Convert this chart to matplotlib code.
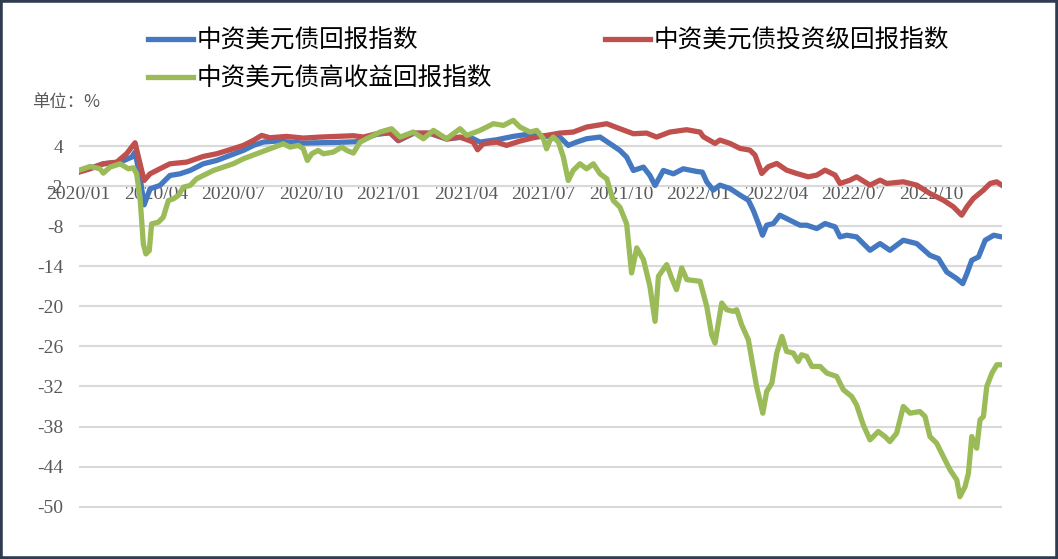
import matplotlib
matplotlib.use('Agg')
import matplotlib.pyplot as plt
from matplotlib.patches import Rectangle

plt.rcParams['font.family'] = ['Noto Sans CJK SC', 'DejaVu Sans']
plt.rcParams['axes.unicode_minus'] = False

# x: months since 2020/01
tick_pos = [0, 3, 6, 9, 12, 15, 18, 21, 24, 27, 30, 33]
tick_labels = ['2020/01', '2020/04', '2020/07', '2020/10', '2021/01', '2021/04',
               '2021/07', '2021/10', '2022/01', '2022/04', '2022/07', '2022/10']
y_ticks = [4, -2, -8, -14, -20, -26, -32, -38, -44, -50]

names = ['中资美元债回报指数', '中资美元债投资级回报指数', '中资美元债高收益回报指数']

# 中资美元债回报指数
blue_m = [0, 0.96, 1.61, 2.06, 2.19, 2.38, 2.54, 2.77, 3.15, 3.54, 3.93, 4.32, 4.83,
          5.35, 5.86, 6.38, 6.77, 7.15, 7.67, 8.19, 8.70, 9.35, 9.99, 10.77, 11.03,
          11.54, 12.06, 12.38, 12.96, 13.61, 14.25, 14.77, 15.28, 15.54, 16.19, 16.83,
          17.35, 18.12, 18.51, 18.70, 18.96, 19.28, 19.67, 20.19, 20.58, 20.96, 21.22,
          21.48, 21.87, 22.12, 22.32, 22.64, 23.03, 23.41, 23.93, 24.15, 24.32, 24.57,
          24.83, 25.22, 25.61, 25.93, 26.12, 26.32, 26.48, 26.64, 26.90, 27.15, 27.54,
          27.93, 28.19, 28.58, 28.90, 29.29, 29.48, 29.74, 30.12, 30.64, 31.03, 31.41,
          31.93, 32.45, 32.96, 33.29, 33.61, 34.00, 34.23, 34.39, 34.58, 34.84, 35.10,
          35.43, 35.74]
blue_v = [0.1, 1.35, 1.6, 2.35, 3.1, -0.65, -4.8, -2.4, -1.9, -0.4, -0.15, 0.35, 1.35,
          1.85, 2.6, 3.35, 4.1, 4.6, 4.75, 4.6, 4.45, 4.5, 4.55, 4.65, 5.1,
          5.75, 6.0, 4.8, 5.9, 5.9, 5.05, 5.3, 5.1, 4.6, 4.95, 5.45,
          5.75, 5.45, 5.6, 5.1, 4.1, 4.6, 5.1, 5.35, 4.35, 3.35, 2.35,
          0.35, 0.85, -0.4, -1.9, 0.35, -0.15, 0.6, 0.2, 0.1, -1.35, -2.6,
          -1.85, -2.35, -3.35, -4.1, -5.6, -7.6, -9.35, -7.85, -7.6, -6.35, -7.1,
          -7.85, -7.85, -8.35, -7.6, -8.1, -9.6, -9.35, -9.6, -11.6, -10.6, -11.6,
          -10.1, -10.6, -12.35, -12.85, -14.85, -15.85, -16.6, -15.1, -13.1, -12.6, -10.1,
          -9.35, -9.6]

# 中资美元债投资级回报指数
red_m = [0, 0.45, 0.96, 1.48, 1.86, 2.19, 2.32, 2.54, 2.77, 3.15, 3.54, 4.19, 4.57,
         4.83, 5.35, 5.86, 6.38, 6.77, 7.09, 7.41, 8.05, 8.70, 9.35, 9.99, 10.64,
         11.03, 11.54, 12.06, 12.38, 12.96, 13.61, 14.25, 14.77, 15.28, 15.45, 15.67,
         16.19, 16.57, 17.09, 17.61, 18.12, 18.64, 19.15, 19.67, 20.45, 20.96, 21.48,
         21.99, 22.38, 22.89, 23.54, 24.06, 24.19, 24.64, 24.83, 25.22, 25.61, 25.99,
         26.19, 26.45, 26.70, 27.03, 27.41, 27.80, 28.25, 28.58, 28.90, 29.29, 29.48,
         29.87, 30.12, 30.64, 31.03, 31.29, 31.93, 32.45, 32.96, 33.48, 33.87, 34.19,
         34.39, 34.64, 35.03, 35.29, 35.54, 35.74]
red_v = [0.1, 0.6, 1.35, 1.6, 2.85, 4.5, 2.35, -1.15, -0.15, 0.6, 1.35, 1.6, 2.1,
         2.45, 2.85, 3.45, 4.1, 4.85, 5.6, 5.25, 5.45, 5.2, 5.35, 5.45, 5.55,
         5.35, 5.85, 6.0, 4.85, 5.95, 5.95, 5.1, 5.35, 4.6, 3.45, 4.35,
         4.6, 4.1, 4.75, 5.25, 5.6, 5.95, 6.1, 6.85, 7.35, 6.6, 5.85,
         5.95, 5.35, 6.1, 6.45, 6.1, 5.4, 4.4, 4.9, 4.4, 3.65, 3.4,
         2.65, -0.1, 0.9, 1.4, 0.4, -0.1, -0.6, -0.35, 0.4, -0.35, -1.6,
         -1.1, -0.6, -1.85, -1.1, -1.6, -1.35, -1.85, -3.1, -4.1, -5.1, -6.35,
         -5.1, -3.85, -2.6, -1.6, -1.35, -1.85]

# 中资美元债高收益回报指数
green_m = [0, 0.45, 0.83, 0.96, 1.22, 1.61, 1.93, 2.12, 2.25, 2.38, 2.51, 2.61, 2.74,
           2.83, 3.09, 3.28, 3.48, 3.67, 3.86, 4.06, 4.32, 4.57, 4.96, 5.22, 5.61,
           5.99, 6.38, 6.90, 7.41, 7.93, 8.19, 8.51, 8.70, 8.86, 9.03, 9.28, 9.48,
           9.86, 10.19, 10.39, 10.64, 10.90, 11.28, 11.67, 12.12, 12.45, 12.96, 13.35,
           13.74, 14.25, 14.77, 15.03, 15.54, 16.06, 16.45, 16.83, 17.09, 17.48, 17.74,
           18.00, 18.12, 18.25, 18.38, 18.58, 18.77, 18.96, 19.15, 19.41, 19.67, 19.93,
           20.19, 20.45, 20.70, 20.96, 21.22, 21.35, 21.41, 21.61, 21.87, 22.12, 22.32,
           22.45, 22.77, 22.96, 23.15, 23.35, 23.55, 24.06, 24.32, 24.51, 24.64, 24.90,
           25.09, 25.35, 25.48, 25.67, 25.93, 26.25, 26.49, 26.64, 26.84, 27.03, 27.23,
           27.41, 27.67, 27.86, 27.99, 28.19, 28.39, 28.71, 28.97, 29.35, 29.61, 29.93,
           30.12, 30.38, 30.64, 30.96, 31.22, 31.41, 31.67, 31.93, 32.19, 32.57, 32.77,
           32.96, 33.22, 33.48, 33.74, 34.00, 34.12, 34.32, 34.45, 34.58, 34.77, 34.90,
           35.03, 35.16, 35.36, 35.55, 35.74]
green_v = [0.35, 0.95, 0.6, -0.05, 0.85, 1.35, 0.6, 0.75, -0.15, -3.65, -10.65, -12.15, -11.65,
           -7.65, -7.4, -6.65, -4.15, -3.9, -3.4, -2.15, -1.9, -0.9, -0.15, 0.35, 0.85,
           1.35, 2.1, 2.85, 3.6, 4.35, 3.85, 4.1, 3.6, 1.85, 2.85, 3.35, 2.85,
           3.1, 3.85, 3.35, 2.95, 4.6, 5.35, 6.1, 6.6, 5.35, 6.1, 5.1,
           6.35, 5.1, 6.6, 5.6, 6.35, 7.35, 7.1, 7.85, 6.85, 6.1, 6.35,
           5.1, 3.6, 4.85, 5.35, 4.6, 2.35, -1.15, 0.35, 1.35, 0.6, 1.35,
           -0.15, -0.9, -4.15, -5.15, -7.65, -12.65, -15.0, -11.25, -13.0, -17.0, -22.25,
           -15.5, -13.75, -15.75, -17.5, -14.25, -16.0, -16.25, -20.0, -24.25, -25.5, -19.5,
           -20.5, -20.75, -20.5, -22.75, -25.0, -32.0, -36.0, -32.75, -31.5, -27.0, -24.5,
           -26.75, -27.0, -28.25, -27.25, -27.5, -29.0, -29.0, -30.0, -30.5, -32.5, -33.5,
           -34.75, -37.75, -40.0, -38.75, -39.5, -40.25, -39.0, -35.0, -36.0, -35.75, -36.5,
           -39.5, -40.5, -42.5, -44.5, -46.0, -48.5, -47.0, -45.0, -39.5, -41.25, -37.0,
           -36.5, -32.0, -30.0, -28.75, -28.75]

colors = ['#4478c0', '#c0504d', '#9bbb59']

W, H = 1058, 559
fig = plt.figure(figsize=(W / 100, H / 100), dpi=100)
ax = fig.add_axes([78.5 / W, 1 - 526.7 / H, (1002 - 78.5) / W, (526.7 - 112.7) / H])

lw = 3.8
l1, = ax.plot(blue_m, blue_v, color=colors[0], lw=lw, solid_joinstyle='round')
l2, = ax.plot(red_m, red_v, color=colors[1], lw=lw, solid_joinstyle='round')
l3, = ax.plot(green_m, green_v, color=colors[2], lw=lw, solid_joinstyle='round')

ax.set_xlim(0, 35.75)
ax.set_ylim(-53, 9)
ax.set_yticks(y_ticks)
ax.set_xticks(tick_pos)
ax.set_xticklabels(tick_labels)
ax.grid(axis='y', color='#d9d9d9', lw=1.5)
ax.set_axisbelow(True)
for s in ['top', 'right', 'left']:
    ax.spines[s].set_visible(False)
# category axis crosses at -2, the labels sit just under that gridline
ax.spines['bottom'].set_position(('data', -2))
ax.spines['bottom'].set_visible(False)
ax.tick_params(axis='both', length=0, labelsize=14, labelcolor='#595959')
ax.tick_params(axis='y', pad=11)
ax.tick_params(axis='x', pad=0)
for lab in ax.get_xticklabels() + ax.get_yticklabels():
    lab.set_fontfamily('Liberation Serif')

fig.text(32 / W, 1 - 102 / H, '单位：%', fontsize=12.5, color='#595959',
         va='center', ha='left')

fig.legend([l1, l3, l2], [names[0], names[2], names[1]], ncol=2, frameon=False,
           loc='upper left', bbox_to_anchor=(143 / W, 1 - 22.5 / H),
           borderaxespad=0, fontsize=17.7, handlelength=1.82, handletextpad=0.16,
           columnspacing=4.6, labelspacing=0.48, borderpad=0.2)

fig.patches.append(Rectangle((0, 0), 1, 1, transform=fig.transFigure, fill=False,
                             edgecolor='#2f3b4f', lw=4, zorder=10))

fig.savefig('out.png', dpi=100)
